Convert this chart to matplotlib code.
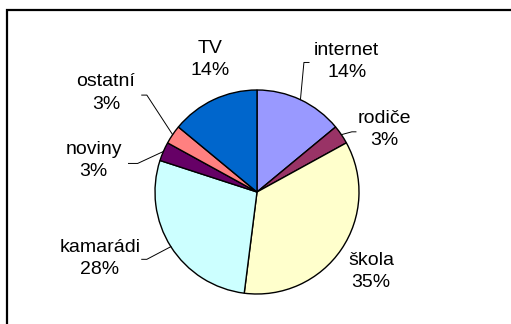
import numpy as np
import matplotlib
matplotlib.use('Agg')
import matplotlib.pyplot as plt
from matplotlib.patches import Rectangle

plt.rcParams['font.family'] = ['Liberation Sans', 'DejaVu Sans']

labels = ['internet', 'rodiče', 'škola', 'kamarádi', 'noviny', 'ostatní', 'TV']
values = [14, 3, 35, 28, 3, 3, 14]
colors = ['#9999FF', '#993366', '#FFFFCC', '#CCFFFF', '#660066', '#FF8080', '#0066CC']

# label centres (in pie radius units) and leader line elbows; None = no leader
label_pos = [(0.88, 1.28), (1.245, 0.61), (1.12, -0.78), (-1.54, -0.65),
             (-1.60, 0.31), (-1.48, 0.97), (-0.46, 1.30)]
leaders = [[(0.46, 1.27), (0.51, 1.27)],
           [(0.93, 0.59), (0.97, 0.59)],
           None,
           [(-1.08, -0.66), (-1.13, -0.66)],
           [(-1.17, 0.28), (-1.26, 0.28)],
           [(-1.08, 0.95), (-1.13, 0.95)],
           None]

W, H = 511, 324
fig = plt.figure(figsize=(W / 100, H / 100), dpi=100)

# chart border (open to the right and bottom)
fig.patches.append(Rectangle((7 / W, -0.2), 1.0, 1 - 10 / H + 0.2,
                             transform=fig.transFigure, fill=False,
                             edgecolor='black', linewidth=1.6))

cx, cy, r = 257, 192, 102
ax = fig.add_axes([(cx - r) / W, (H - cy - r) / H, 2 * r / W, 2 * r / H])

wedges, _ = ax.pie(values, colors=colors, startangle=90, counterclock=False,
                   radius=1.0, wedgeprops=dict(edgecolor='black', linewidth=1.0))
for w in wedges:
    w.set_clip_on(False)
ax.set_xlim(-1, 1)
ax.set_ylim(-1, 1)
ax.set_aspect('equal')
ax.axis('off')

total = sum(values)
cum = 0
for lab, v, pos, lead in zip(labels, values, label_pos, leaders):
    mid = (cum + v / 2) / total * 2 * np.pi
    cum += v
    ax.text(pos[0], pos[1], f'{lab}\n{round(100 * v / total)}%', ha='center',
            va='center', fontsize=14, linespacing=1.4, clip_on=False)
    if lead:
        pts = [(np.sin(mid), np.cos(mid))] + lead
        xs, ys = zip(*pts)
        ax.plot(xs, ys, color='black', linewidth=0.7, clip_on=False)

fig.savefig('out.png', dpi=100)
